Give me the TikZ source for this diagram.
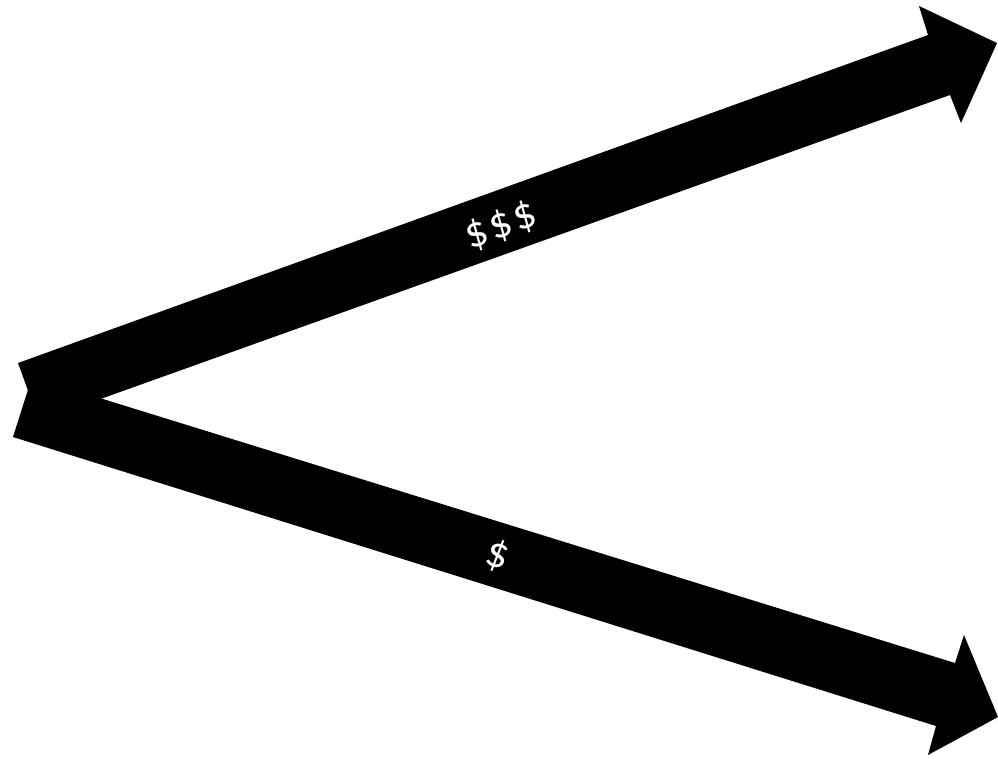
\documentclass[tikz,border=0pt]{standalone}
\usepackage{fontspec}
\setmainfont{Carlito}
\begin{document}
\begin{tikzpicture}[x=1pt,y=-1pt,
  arrowbody/.style={fill=black,draw=none},
  lbl/.style={text=white,font=\fontsize{44}{48}\selectfont,inner sep=0pt}]
\useasboundingbox (0,0) rectangle (998,758);
% upper arrow
\fill[arrowbody] (18,363) -- (928,35) -- (919,6) -- (997,43) -- (961,123) -- (950,95) -- (39,421) -- cycle;
% lower arrow
\fill[arrowbody] (32,377) -- (955,663) -- (964,635) -- (998,717) -- (928,755) -- (936,726) -- (13,437) -- cycle;
\node[lbl,rotate=19.8] (top) at (501,226) {\$\kern3pt\$\kern3pt\$};
\node[lbl,rotate=-17.3] (bot) at (498,556) {\$};
\end{tikzpicture}
\end{document}
